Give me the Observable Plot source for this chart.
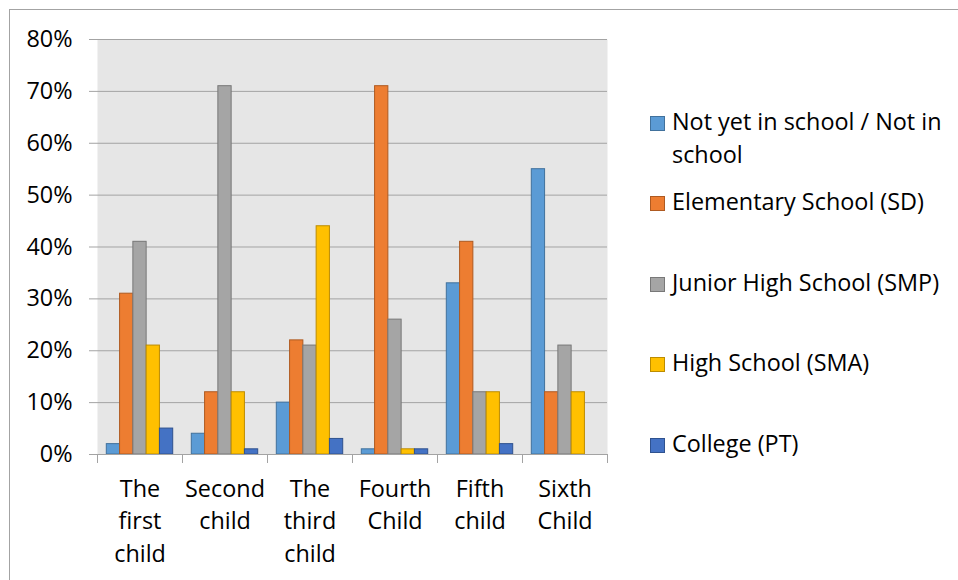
<!DOCTYPE html>
<html>
<head>
<meta charset="utf-8">
<script src="https://cdn.jsdelivr.net/npm/d3@7"></script>
<script src="https://cdn.jsdelivr.net/npm/@observablehq/plot@0.6"></script>
<style>
  html, body { margin: 0; padding: 0; background: #fff; }
  #chart { position: relative; width: 958px; height: 580px; overflow: hidden; font-family: "Open Sans", sans-serif; color: #000; }
  #border { position: absolute; left: 9px; top: 9px; width: 1200px; height: 900px;
            border-top: 1.5px solid #a3a3a3; border-left: 1.5px solid #a3a3a3; }
  #plot { position: absolute; left: 0; top: 0; }
  #legend { position: absolute; left: 650px; top: 104.5px; width: 305px; font-size: 23.4px; line-height: 33px; }
  .item { display: flex; align-items: flex-start; height: 80.5px; }
  .swatch { flex: none; width: 13px; height: 13px; border: 1px solid; margin-top: 11px; margin-right: 7px; }
  .name { width: 280px; }
</style>
</head>
<body>
<div id="chart">
  <div id="border"></div>
  <div id="plot"></div>
  <div id="legend"></div>
</div>
<script>
// Birth order of the child
const categories = ["The first child", "Second child", "The third child", "Fourth Child", "Fifth child", "Sixth Child"];
const tickLabels = ["The\nfirst\nchild", "Second\nchild", "The\nthird\nchild", "Fourth\nChild", "Fifth\nchild", "Sixth\nChild"];

// Education level series (share of children, %)
const series = ["Not yet in school / Not in school", "Elementary School (SD)", "Junior High School (SMP)", "High School (SMA)", "College (PT)"];
const notInSchool = [2, 4, 10, 1, 33, 55];
const elementary  = [31, 12, 22, 71, 41, 12];
const juniorHigh  = [41, 71, 21, 26, 12, 21];
const highSchool  = [21, 12, 44, 1, 12, 12];
const college     = [5, 1, 3, 1, 2, 0];

const yTicks = [0, 10, 20, 30, 40, 50, 60, 70, 80];

const fills   = ["#5b9bd5", "#ed7d31", "#a5a5a5", "#ffc000", "#4472c4"];
const strokes = ["#41719c", "#ae5a21", "#787878", "#bc8c00", "#2f528f"];

const values = [notInSchool, elementary, juniorHigh, highSchool, college];
const rows = [];
categories.forEach((c, i) => {
  series.forEach((s, j) => rows.push({category: c, series: s, k: j, value: values[j][i]}));
});

const margin = {top: 39, right: 33, bottom: 126, left: 97};
const W = 640, H = 580;
const innerH = H - margin.top - margin.bottom;
const gridColor = "#a3a3a3";

const chart = Plot.plot({
  width: W,
  height: H,
  marginTop: margin.top,
  marginRight: margin.right,
  marginBottom: margin.bottom,
  marginLeft: margin.left,
  style: {fontFamily: "'Open Sans', sans-serif", fontSize: "23.4px", color: "#000", background: "transparent", overflow: "visible"},
  fx: {domain: categories, padding: 0, label: null},
  x: {domain: series, paddingInner: 0, paddingOuter: 0.7, round: false, axis: null},
  y: {domain: [0, 80], axis: null},
  marks: [
    Plot.frame({fill: "#e6e6e6", stroke: null, facet: "super"}),
    Plot.gridY(yTicks, {stroke: gridColor, strokeOpacity: 1, strokeWidth: 1}),
    Plot.axisY(yTicks, {
      tickSize: 8, tickPadding: 17, stroke: gridColor, strokeOpacity: 1,
      tickFormat: d => d + "%", line: true, label: null
    }),
    Plot.barY(rows, {
      fx: "category", x: "series", y: "value",
      fill: d => fills[d.k], stroke: d => strokes[d.k], strokeWidth: 1,
      filter: d => d.value > 0
    }),
    Plot.ruleY([0], {stroke: gridColor}),
    Plot.frame({anchor: "left", insetTop: innerH, insetBottom: -8, stroke: gridColor}),
    Plot.frame({anchor: "right", insetTop: innerH, insetBottom: -8, stroke: gridColor}),
    Plot.axisFx({
      anchor: "bottom", tickSize: 0, tickPadding: 19, lineHeight: 32.5 / 23.4, label: null,
      tickFormat: d => tickLabels[categories.indexOf(d)]
    })
  ]
});
document.getElementById("plot").appendChild(chart);

// Legend
const legend = d3.select("#legend");
series.forEach((s, j) => {
  const item = legend.append("div").attr("class", "item");
  item.append("div").attr("class", "swatch")
    .style("background", fills[j]).style("border-color", strokes[j]);
  item.append("div").attr("class", "name").text(s);
});
</script>
</body>
</html>
